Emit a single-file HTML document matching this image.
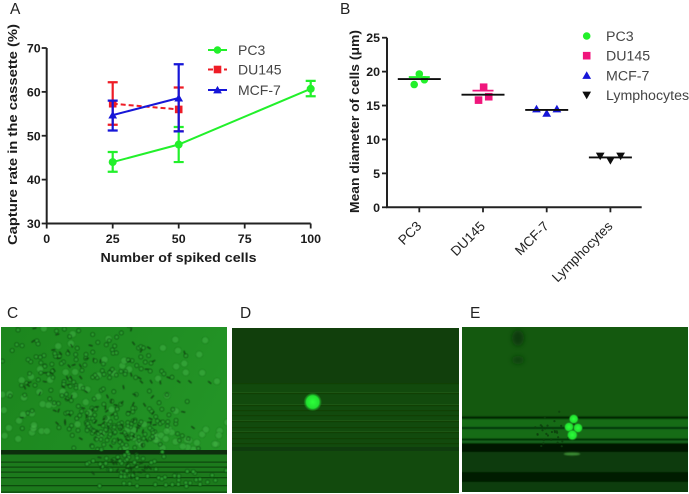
<!DOCTYPE html>
<html lang="en">
<head>
<meta charset="utf-8">
<title>Capture rate and cell diameter figure</title>
<style>
html,body{margin:0;padding:0;background:#fff;width:689px;height:494px;overflow:hidden}
svg{display:block}
text{font-family:"Liberation Sans",Arial,sans-serif}
.tick{font-weight:bold;font-size:12.4px;fill:#1a1a1a}
.title{font-weight:bold;font-size:13px;fill:#1a1a1a}
.leg{font-size:14px;fill:#444}
.panel{font-size:15.5px;fill:#222}
</style>
</head>
<body>
<svg id="fig" xmlns="http://www.w3.org/2000/svg" width="689" height="494" viewBox="0 0 689 494">
<defs>
<filter id="soft" x="-5%" y="-5%" width="110%" height="110%"><feGaussianBlur stdDeviation="0.35"/></filter>
<filter id="soft2" x="-5%" y="-5%" width="110%" height="110%"><feGaussianBlur stdDeviation="0.5"/></filter>
<filter id="blur1"><feGaussianBlur stdDeviation="0.7"/></filter>
<filter id="blur3" x="-50%" y="-50%" width="200%" height="200%"><feGaussianBlur stdDeviation="2.5"/></filter>
<clipPath id="clipC"><rect x="1" y="327" width="226" height="166"/></clipPath>
<clipPath id="clipD"><rect x="232" y="328" width="227" height="165"/></clipPath>
<clipPath id="clipE"><rect x="462" y="327" width="226" height="165"/></clipPath>
<linearGradient id="gradC" x1="0" y1="0" x2="1" y2="0.4"><stop offset="0" stop-color="#1c861d"/><stop offset="0.5" stop-color="#1f8c22"/><stop offset="1" stop-color="#239426"/></linearGradient>
<radialGradient id="spot"><stop offset="0" stop-color="#2cff3a"/><stop offset="0.7" stop-color="#22e030"/><stop offset="1" stop-color="#1a8a20" stop-opacity="0.25"/></radialGradient>
</defs>

<text x="10" y="14" class="panel">A</text>
<text x="340" y="14" class="panel">B</text>
<text x="7" y="318" class="panel">C</text>
<text x="240" y="318" class="panel">D</text>
<text x="470" y="318" class="panel">E</text>

<g id="chartA" filter="url(#soft)"></g>
<g id="chartB" filter="url(#soft)"></g>

<g id="panelC" clip-path="url(#clipC)">
  <rect x="1" y="327" width="226" height="166" fill="url(#gradC)"/>
  <g id="cellsC" filter="url(#soft2)"></g>
  <g id="stripesC" filter="url(#soft)"></g>
  <g id="cellsC2" filter="url(#soft2)"></g>
</g>

<g id="panelD" clip-path="url(#clipD)">
  <rect x="232" y="328" width="227" height="165" fill="#124a0d"/>
  <rect x="232" y="328" width="227" height="55" fill="#113f0c"/>
  <g id="stripesD" filter="url(#soft)"></g>
  <circle cx="312.700" cy="402" r="9" fill="url(#spot)"/>
</g>

<g id="panelE" clip-path="url(#clipE)">
  <rect x="462" y="327" width="226" height="165" fill="#14590f"/>
  <g id="stripesE" filter="url(#blur1)"></g>
  <ellipse cx="518" cy="338" rx="6" ry="8" fill="#0d3a0b" filter="url(#blur3)"/>
  <ellipse cx="518" cy="360" rx="6" ry="4" fill="#0f420c" filter="url(#blur3)"/>
  <g id="debrisE"></g>
  <circle cx="573.700" cy="419" r="5" fill="url(#spot)"/>
  <circle cx="569" cy="427" r="5" fill="url(#spot)"/>
  <circle cx="578" cy="428" r="5" fill="url(#spot)"/>
  <circle cx="572.300" cy="435" r="5.500" fill="url(#spot)"/>
</g>
</svg>

<script>
// ---- Chart A data ----
var aXTicks = [0, 25, 50, 75, 100];
var aYTicks = [30, 40, 50, 60, 70];
var pc3X = [25, 50, 100];
var pc3Y = [44, 48, 60.7];
var pc3Low = [41.8, 44, 59];
var pc3High = [46.3, 52, 62.5];
var du145X = [25, 50];
var du145Y = [57.3, 56];
var du145Low = [52.5, 51];
var du145High = [62.2, 61];
var mcf7X = [25, 50];
var mcf7Y = [54.7, 58.6];
var mcf7Low = [51.2, 51];
var mcf7High = [58, 66.3];
// ---- Chart B data ----
var bCategories = ['PC3', 'DU145', 'MCF-7', 'Lymphocytes'];
var bYTicks = [0, 5, 10, 15, 20, 25];
var bMeans = [18.9, 16.6, 14.35, 7.35];
var bUpper = [19.2, 17.2, 14.5, 7.5];
var bPoints = [[18.1, 19.65, 18.8], [15.8, 17.7, 16.3], [14.5, 13.85, 14.5], [7.55, 6.9, 7.55]];
var bJitter = [[-0.08, 0, 0.08], [-0.07, 0.01, 0.09], [-0.16, 0, 0.16], [-0.16, 0, 0.16]];

var NS = 'http://www.w3.org/2000/svg';
function mk(parent, tag, attrs, txt) {
  var e = document.createElementNS(NS, tag);
  for (var k in attrs) e.setAttribute(k, attrs[k]);
  if (txt !== undefined) e.textContent = txt;
  parent.appendChild(e);
  return e;
}
function ax(v) { return 46.7 + v / 100 * 264; }
function ay(v) { return 223.5 - (v - 30) / 40 * 175.5; }
function bx(i) { return 419.3 + i * 63.7; }
function by(v) { return 207.3 - v / 25 * 169.6; }

function marker(parent, kind, x, y, s, color, name) {
  var el;
  if (kind === 'circle') {
    el = mk(parent, 'circle', {cx: x, cy: y, r: s, fill: color});
  } else if (kind === 'square') {
    el = mk(parent, 'rect', {x: x - s, y: y - s, width: 2 * s, height: 2 * s, fill: color});
  } else if (kind === 'up') {
    el = mk(parent, 'polygon', {points: [x, y - s * 1.1, x + s * 1.15, y + s * 0.9, x - s * 1.15, y + s * 0.9].join(' '), fill: color});
  } else {
    el = mk(parent, 'polygon', {points: [x, y + s * 1.1, x + s * 1.15, y - s * 0.9, x - s * 1.15, y - s * 0.9].join(' '), fill: color});
  }
  
  
  return el;
}

var A = document.getElementById('chartA');
function drawSeriesA(key, xs, ys, lows, highs, color, kind, dash, size) {
  var i;
  var pts = [];
  for (i = 0; i < xs.length; i++) pts.push(ax(xs[i]) + ',' + ay(ys[i]));
  for (i = 0; i < xs.length; i++) {
    var x = ax(xs[i]);
    var bar = mk(A, 'path', {d: 'M' + x + ' ' + ay(lows[i]) + 'V' + ay(highs[i]) + 'M' + (x - 5) + ' ' + ay(lows[i]) + 'h10M' + (x - 5) + ' ' + ay(highs[i]) + 'h10', stroke: color, 'stroke-width': 2.2, fill: 'none'});
    
    
  }
  var line = mk(A, 'polyline', {points: pts.join(' '), fill: 'none', stroke: color, 'stroke-width': 2});
  if (dash) line.setAttribute('stroke-dasharray', dash);
  
  
  for (i = 0; i < xs.length; i++) marker(A, kind, ax(xs[i]), ay(ys[i]), size, color, key + '-point');
}
drawSeriesA('pc3', pc3X, pc3Y, pc3Low, pc3High, '#22f02c', 'circle', null, 4);
drawSeriesA('du145', du145X, du145Y, du145Low, du145High, '#ee1c25', 'square', '5 3', 3.8);
drawSeriesA('mcf7', mcf7X, mcf7Y, mcf7Low, mcf7High, '#1414d8', 'up', null, 3.8);

var axisA = mk(A, 'path', {d: 'M' + ax(0) + ' ' + ay(70) + 'V' + ay(30) + 'H' + ax(100), stroke: '#222', 'stroke-width': 2, fill: 'none'});


aYTicks.forEach(function (v) {
  var t = mk(A, 'line', {x1: ax(0) - 5, x2: ax(0), y1: ay(v), y2: ay(v), stroke: '#222', 'stroke-width': 1.8});
  
  
  var l = mk(A, 'text', {x: ax(0) - 6, y: ay(v) + 4.5, 'text-anchor': 'end', 'class': 'tick'}, String(v));
  
  
});
aXTicks.forEach(function (v) {
  var t = mk(A, 'line', {x1: ax(v), x2: ax(v), y1: ay(30), y2: ay(30) + 5, stroke: '#222', 'stroke-width': 1.8});
  
  
  var l = mk(A, 'text', {x: ax(v), y: 243, 'text-anchor': 'middle', 'class': 'tick'}, String(v));
  
  
});
var xTitleA = mk(A, 'text', {x: 178.500, y: 262, 'text-anchor': 'middle', 'class': 'title', textLength: 156, lengthAdjust: 'spacingAndGlyphs'}, 'Number of spiked cells');


var yTitleA = mk(A, 'text', {transform: 'translate(17,134.500) rotate(-90)', 'text-anchor': 'middle', 'class': 'title', textLength: 221, lengthAdjust: 'spacingAndGlyphs'}, 'Capture rate in the cassette (%)');



var legA = [['PC3', '#22f02c', 'circle', null, 50], ['DU145', '#ee1c25', 'square', '5 3', 69.500], ['MCF-7', '#1414d8', 'up', null, 90]];
legA.forEach(function (r) {
  var ln = mk(A, 'line', {x1: 208, x2: 227, y1: r[4], y2: r[4], stroke: r[1], 'stroke-width': 2});
  if (r[3]) ln.setAttribute('stroke-dasharray', r[3]);
  
  
  marker(A, r[2], 217.500, r[4], 3.8, r[1], 'legend-marker-a');
  var t = mk(A, 'text', {x: 238, y: r[4] + 5, 'class': 'leg'}, r[0]);
  
  
});

var B = document.getElementById('chartB');
var bColors = ['#22f02c', '#f0187c', '#1414d8', '#111111'];
var bKinds = ['circle', 'square', 'up', 'down'];
bCategories.forEach(function (c, i) {
  bPoints[i].forEach(function (v, j) {
    marker(B, bKinds[i], bx(i) + bJitter[i][j] * 63.7, by(v), 3.8, bColors[i], 'point-' + c.toLowerCase());
  });
  if (i < 2) {
    var up = mk(B, 'line', {x1: bx(i) - 10.5, x2: bx(i) + 10.5, y1: by(bUpper[i]), y2: by(bUpper[i]), stroke: bColors[i], 'stroke-width': 1.8});
    
    
  }
  var m = mk(B, 'line', {x1: bx(i) - 21.5, x2: bx(i) + 21.5, y1: by(bMeans[i]), y2: by(bMeans[i]), stroke: '#111', 'stroke-width': 1.8});
  
  
  var t = mk(B, 'line', {x1: bx(i), x2: bx(i), y1: by(0), y2: by(0) + 5, stroke: '#222', 'stroke-width': 1.8});
  
  
  var l = mk(B, 'text', {transform: 'translate(' + (bx(i) + 3) + ',227) rotate(-45)', 'text-anchor': 'end', style: 'font-size:13.500px;fill:#222'}, c);
  
  
});
var axisB = mk(B, 'path', {d: 'M387 ' + by(25) + 'V' + by(0) + 'H641.700', stroke: '#222', 'stroke-width': 2, fill: 'none'});


bYTicks.forEach(function (v) {
  var t = mk(B, 'line', {x1: 382, x2: 387, y1: by(v), y2: by(v), stroke: '#222', 'stroke-width': 1.8});
  
  
  var l = mk(B, 'text', {x: 380, y: by(v) + 4.5, 'text-anchor': 'end', 'class': 'tick'}, String(v));
  
  
});
var yTitleB = mk(B, 'text', {transform: 'translate(359,121.500) rotate(-90)', 'text-anchor': 'middle', 'class': 'title', textLength: 183, lengthAdjust: 'spacingAndGlyphs'}, 'Mean diameter of cells (μm)');


bCategories.forEach(function (c, i) {
  var y = 36 + i * 19.7;
  marker(B, bKinds[i], 586.700, y, 3.8, bColors[i], 'legend-marker-b');
  var t = mk(B, 'text', {x: 606, y: y + 5, 'class': 'leg', style: 'font-size:14.200px'}, c);
  
  
});

// ---- Micrograph texture (decorative image stand-ins, not chart data) ----
var seed = 12345;
function rnd() { seed = (seed * 1103515245 + 12345) % 2147483648; return seed / 2147483648; }
function gauss() { return (rnd() + rnd() + rnd() + rnd() - 2) / 0.8; }

function stripe(parent, y, h, color, op) {
  var r = mk(parent, 'rect', {x: 0, y: y, width: 689, height: h, fill: color, opacity: op});
  
  
}
var sC = document.getElementById('stripesC');
stripe(sC, 450, 43, '#1c7a1c', 1);
stripe(sC, 450, 4.5, '#072e08', 1);
[461.5, 466.5, 471.5, 477, 485, 491.5].forEach(function (y) { stripe(sC, y, 1.3, '#0c460d', 0.9); });

var sD = document.getElementById('stripesD');
[383, 393, 405, 410, 415, 421, 427, 432, 438, 443].forEach(function (y) { stripe(sD, y, 1.2, '#0c3a09', 0.7); });
[392, 404, 420, 431].forEach(function (y) { stripe(sD, y, 0.8, '#276222', 0.6); });
stripe(sD, 447, 4, '#0d3a09', 0.85);

var sE = document.getElementById('stripesE');
stripe(sE, 416.5, 2.5, '#052006', 1);
stripe(sE, 419, 8, '#186c16', 1);
stripe(sE, 427, 2, '#062507', 1);
stripe(sE, 429, 9.5, '#186c16', 1);
stripe(sE, 438.5, 2, '#052006', 1);
stripe(sE, 440.5, 2.5, '#15651a', 1);
stripe(sE, 443, 9, '#031804', 1);
stripe(sE, 452, 20, '#0b3a0a', 1);
stripe(sE, 472, 10, '#061f06', 1);
stripe(sE, 482, 11, '#0e3e0c', 1);
var glow = mk(sE, 'ellipse', {cx: 572, cy: 454, rx: 8, ry: 1.2, fill: '#3d8f35'});



var gC = document.getElementById('cellsC');
var gC2 = document.getElementById('cellsC2');
function ring(parent, x, y) {
  var c = mk(parent, 'circle', {cx: x, cy: y, r: 1.9, fill: '#2a9c2d', stroke: '#0f4f12', 'stroke-width': 0.8});
  
  
}
function halo(parent, x, y) {
  var c = mk(parent, 'circle', {cx: x, cy: y, r: 3.4, fill: '#3fae42', opacity: 0.6, stroke: '#17701a', 'stroke-width': 0.6});
  
  
}
function dash(parent, x, y) {
  var a = rnd() * 3.14;
  var c = mk(parent, 'line', {x1: x - 2 * Math.cos(a), y1: y - 2 * Math.sin(a), x2: x + 2 * Math.cos(a), y2: y + 2 * Math.sin(a), stroke: '#0c3d0e', 'stroke-width': 1.2});
  
  
}
function cloud(fn, parent, n, cx, cy, sx, sy, ymax) {
  for (var i = 0; i < n; i++) {
    var x = cx + gauss() * sx, y = cy + gauss() * sy;
    if (ymax && y > ymax) continue;
    fn(parent, x, y);
  }
}
cloud(halo, gC, 50, 60, 385, 70, 48, 448);
cloud(halo, gC, 35, 175, 437, 55, 8, 450);
cloud(halo, gC, 12, 190, 375, 35, 28, 448);
cloud(halo, gC, 12, 25, 430, 18, 12, 450);
cloud(ring, gC, 100, 75, 365, 50, 34, 448);
cloud(ring, gC, 130, 118, 428, 45, 18, 450);
cloud(ring, gC, 30, 135, 365, 28, 26, 448);
cloud(dash, gC, 50, 85, 375, 48, 36, 448);
cloud(dash, gC, 45, 120, 425, 38, 18, 450);
cloud(dash, gC, 12, 175, 385, 28, 20, 448);
cloud(ring, gC2, 50, 130, 468, 32, 11);
cloud(ring, gC2, 20, 190, 480, 30, 7);
cloud(dash, gC2, 25, 125, 465, 32, 8);

var gE = document.getElementById('debrisE');
cloud(function (p, x, y) {
  var c = mk(p, 'circle', {cx: x, cy: y, r: 1.1, fill: '#0d3d0c', opacity: 0.8});
  
  
}, gE, 30, 553, 428, 12, 14);
</script>
</body>
</html>
